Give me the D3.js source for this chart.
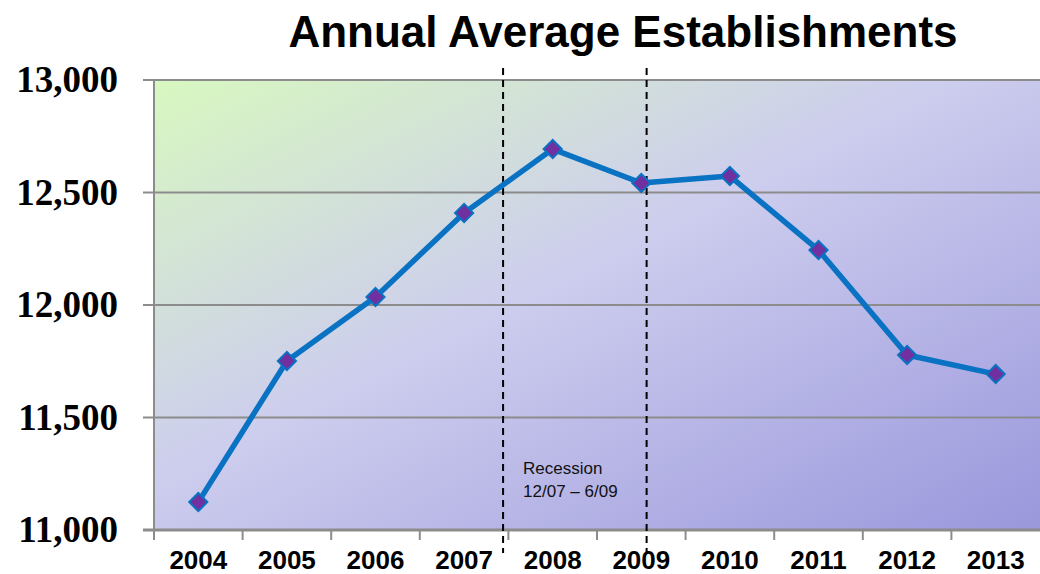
<!DOCTYPE html>
<html>
<head>
<meta charset="utf-8">
<script src="https://cdn.jsdelivr.net/npm/d3@7"></script>
<style>
  body { margin: 0; background: #fff; }
  svg { display: block; }
</style>
</head>
<body>
<div id="chart"></div>
<script>
// data
var years = ["2004", "2005", "2006", "2007", "2008", "2009", "2010", "2011", "2012", "2013"];
var establishments = [11124, 11751, 12036, 12409, 12693, 12542, 12573, 12244, 11778, 11693];
var yTicks = [11000, 11500, 12000, 12500, 13000];
var recessionBounds = [3.94, 5.56]; // dashed lines, in year-band units from the left edge
var recessionLabel = ["Recession", "12/07 \u2013 6/09"];

var width = 1040, height = 574;
var margin = {top: 80, right: 0, bottom: 44, left: 154};

var svg = d3.select("#chart").append("svg")
    .attr("width", width)
    .attr("height", height);

var defs = svg.append("defs");
var grad = defs.append("linearGradient")
    .attr("id", "bg")
    .attr("x1", "0%").attr("y1", "0%")
    .attr("x2", "100%").attr("y2", "100%");
grad.append("stop").attr("offset", "0%").attr("stop-color", "#d8f8c0");
grad.append("stop").attr("offset", "45%").attr("stop-color", "#cdcdee");
grad.append("stop").attr("offset", "100%").attr("stop-color", "#9a97dc");

var x = d3.scaleBand()
    .domain(years)
    .range([margin.left, width - margin.right]);

var y = d3.scaleLinear()
    .domain([11000, 13000])
    .range([height - margin.bottom, margin.top]);

// plot area
svg.append("rect")
    .attr("x", margin.left)
    .attr("y", margin.top)
    .attr("width", width - margin.right - margin.left)
    .attr("height", y(11000) - y(13000))
    .attr("fill", "url(#bg)");

// gridlines
svg.append("g")
  .selectAll("line")
  .data(yTicks)
  .enter().append("line")
    .attr("x1", margin.left - 11)
    .attr("x2", width - margin.right)
    .attr("y1", function(d) { return y(d); })
    .attr("y2", function(d) { return y(d); })
    .attr("stroke", "#8c8c8c")
    .attr("stroke-width", 2);

// left axis line
svg.append("line")
    .attr("x1", margin.left).attr("x2", margin.left)
    .attr("y1", y(13000)).attr("y2", y(11000))
    .attr("stroke", "#8c8c8c")
    .attr("stroke-width", 2);

// bottom axis
var xAxis = svg.append("g")
    .attr("transform", "translate(0," + y(11000) + ")");
xAxis.append("line")
    .attr("x1", margin.left - 11).attr("x2", width - margin.right)
    .attr("stroke", "#8c8c8c")
    .attr("stroke-width", 3);
xAxis.selectAll("line.tick")
  .data(years)
  .enter().append("line")
    .attr("class", "tick")
    .attr("x1", function(d) { return x(d); })
    .attr("x2", function(d) { return x(d); })
    .attr("y1", 0).attr("y2", 10)
    .attr("stroke", "#8c8c8c")
    .attr("stroke-width", 2);
xAxis.selectAll("text")
  .data(years)
  .enter().append("text")
    .attr("x", function(d) { return x(d) + x.bandwidth() / 2; })
    .attr("y", 39)
    .attr("text-anchor", "middle")
    .attr("font-family", "Liberation Sans, Arial, sans-serif")
    .attr("font-weight", "bold")
    .attr("font-size", 26)
    .text(function(d) { return d; });

// y labels
svg.append("g")
  .selectAll("text")
  .data(yTicks)
  .enter().append("text")
    .attr("x", 118)
    .attr("y", function(d) { return y(d) + 12; })
    .attr("text-anchor", "end")
    .attr("font-family", "Liberation Serif, Times New Roman, serif")
    .attr("font-weight", "bold")
    .attr("font-size", 37)
    .text(function(d) { return d3.format(",")(d); });

// recession markers
var xPos = d3.scaleLinear()
    .domain([0, years.length])
    .range([margin.left, width - margin.right]);
svg.append("g")
  .selectAll("line")
  .data(recessionBounds)
  .enter().append("line")
    .attr("x1", function(d) { return xPos(d); })
    .attr("x2", function(d) { return xPos(d); })
    .attr("y1", y(13000) - 12)
    .attr("y2", y(11000) + 23)
    .attr("stroke", "#000")
    .attr("stroke-width", 2)
    .attr("stroke-dasharray", "7,5");

var label = svg.append("text")
    .attr("font-family", "Liberation Sans, Arial, sans-serif")
    .attr("font-size", 17)
    .attr("fill", "#111");
label.selectAll("tspan")
  .data(recessionLabel)
  .enter().append("tspan")
    .attr("x", xPos(recessionBounds[0]) + 20)
    .attr("y", function(d, i) { return 474 + i * 23; })
    .text(function(d) { return d; });

// line
var line = d3.line()
    .x(function(d, i) { return x(years[i]) + x.bandwidth() / 2; })
    .y(function(d) { return y(d); });

svg.append("path")
    .datum(establishments)
    .attr("d", line)
    .attr("fill", "none")
    .attr("stroke", "#0a72c2")
    .attr("stroke-width", 5.5)
    .attr("stroke-linejoin", "round");

svg.append("g")
  .selectAll("path")
  .data(establishments)
  .enter().append("path")
    .attr("d", d3.symbol().type(d3.symbolSquare).size(165))
    .attr("transform", function(d, i) {
      return "translate(" + (x(years[i]) + x.bandwidth() / 2) + "," + y(d) + ") rotate(45)";
    })
    .attr("fill", "#7030a0")
    .attr("stroke", "#0a72c2")
    .attr("stroke-width", 2);

// title
svg.append("text")
    .attr("x", 623)
    .attr("y", 47)
    .attr("text-anchor", "middle")
    .attr("font-family", "Liberation Sans, Arial, sans-serif")
    .attr("font-weight", "bold")
    .attr("font-size", 44)
    .text("Annual Average Establishments");
</script>
</body>
</html>
